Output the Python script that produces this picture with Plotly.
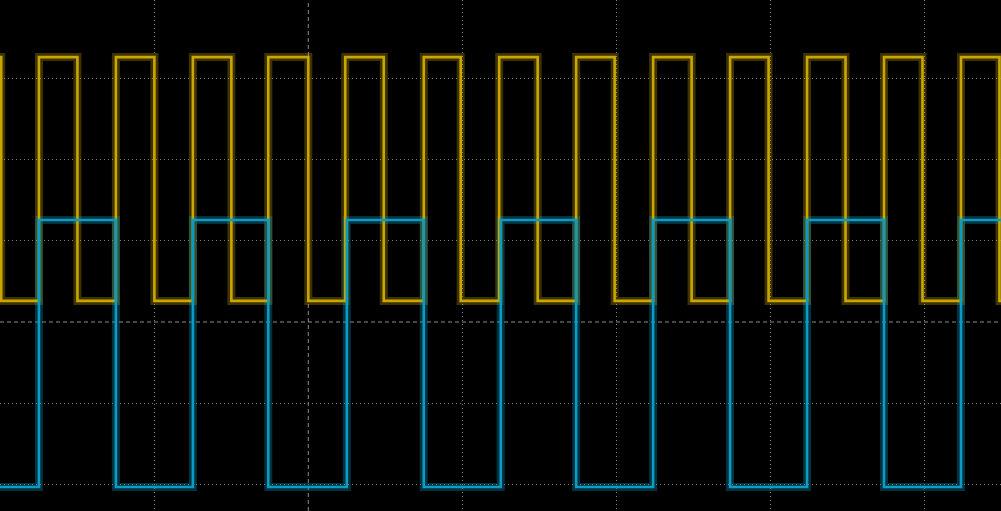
import plotly.graph_objects as go

# Time axis in divisions (centre of screen = 0), voltage axis in divisions
x_start, x_end = -2.0, 4.5
y_bottom, y_top = -2.326, 3.963

# Channel 1 (yellow) edge times and levels (starts high, falls right at the left edge)
ch1_rise = [-1.75, -1.25, -0.75, -0.26, 0.24, 0.75, 1.24, 1.74, 2.24, 2.74, 3.24, 3.74, 4.24]
ch1_fall = [-1.995, -1.50, -1.00, -0.50, 0.00, 0.49, 0.99, 1.49, 1.99, 2.49, 2.99, 3.49, 3.99, 4.49]
ch1_high, ch1_low = 3.26, 0.26

# Channel 2 (blue) edge times and levels
ch2_rise = [-1.75, -0.75, 0.25, 1.25, 2.24, 3.24, 4.24]
ch2_fall = [-1.25, -0.26, 0.75, 1.74, 2.74, 3.74]
ch2_high, ch2_low = 1.255, -2.03

grid_x = [-2, -1, 1, 2, 3, 4]
grid_y = [-2, -1, 1, 2, 3]


def step_series(rises, falls, hi, lo, start_level):
    edges = sorted([(t, hi) for t in rises] + [(t, lo) for t in falls])
    xs = [x_start - 0.01]
    ys = [start_level]
    for t, lvl in edges:
        xs.append(t)
        ys.append(lvl)
    xs.append(x_end + 0.01)
    ys.append(ys[-1])
    return xs, ys


y1x, y1y = step_series(ch1_rise, ch1_fall, ch1_high, ch1_low, ch1_high)
b2x, b2y = step_series(ch2_rise, ch2_fall, ch2_high, ch2_low, ch2_low)

YEL = "#c9a700"
BLU = "#0a9cc4"

fig = go.Figure()
fig.add_trace(go.Scatter(x=y1x, y=y1y, mode="lines", line=dict(color="rgba(201,167,0,0.30)", width=8, shape="hv"),
                         hoverinfo="skip", showlegend=False))
fig.add_trace(go.Scatter(x=b2x, y=b2y, mode="lines", line=dict(color="rgba(10,156,196,0.32)", width=8, shape="hv"),
                         hoverinfo="skip", showlegend=False))
fig.add_trace(go.Scatter(x=y1x, y=y1y, mode="lines", line=dict(color=YEL, width=2.6, shape="hv"),
                         name="CH1", showlegend=False))
fig.add_trace(go.Scatter(x=b2x, y=b2y, mode="lines", line=dict(color=BLU, width=2.6, shape="hv"),
                         name="CH2", showlegend=False))

fig.add_shape(type="line", xref="x", yref="paper", x0=0, x1=0, y0=0, y1=1,
              line=dict(color="#8c8c8c", width=1, dash="4px,3px"), layer="below")
fig.add_shape(type="line", xref="paper", yref="y", x0=0, x1=1, y0=0, y1=0,
              line=dict(color="#8c8c8c", width=1, dash="4px,3px"), layer="below")

fig.update_layout(
    width=1001, height=511,
    margin=dict(l=0, r=0, t=0, b=0),
    paper_bgcolor="black", plot_bgcolor="black",
    xaxis=dict(range=[x_start - 0.003, x_end], tickvals=grid_x, showticklabels=False, zeroline=False,
               showgrid=True, gridcolor="#808080", gridwidth=1, griddash="1px,3px", fixedrange=True),
    yaxis=dict(range=[y_bottom, y_top], tickvals=grid_y, showticklabels=False, zeroline=False,
               showgrid=True, gridcolor="#808080", gridwidth=1, griddash="1px,3px", fixedrange=True),
)

fig.write_html("out.html")
